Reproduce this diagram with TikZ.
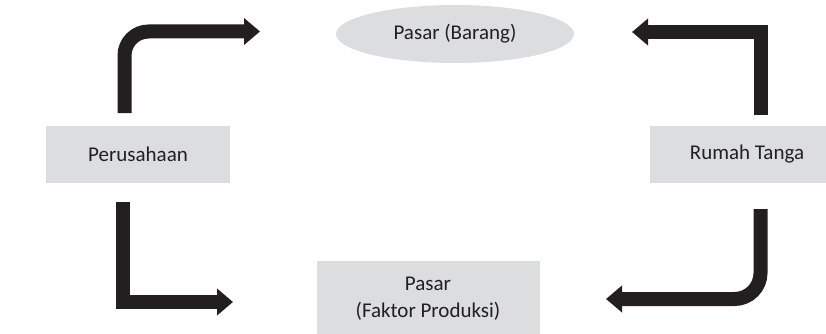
\documentclass[tikz,border=0pt]{standalone}
\usepackage{fontspec}
\setmainfont{Carlito}
\usetikzlibrary{arrows.meta,shapes.geometric}
\definecolor{boxgray}{HTML}{DCDDDE}
\definecolor{ink}{HTML}{231F20}
\begin{document}
\begin{tikzpicture}[x=1pt,y=-1pt,
  label text/.style={text=ink, font=\fontsize{21}{27}\selectfont},
  box/.style={label text, rectangle, fill=boxgray, draw=none, inner sep=0pt, align=center},
  market/.style={label text, ellipse, fill=boxgray, draw=none, inner sep=0pt},
  flow/.style={draw=ink, line width=14pt, -{Triangle[length=16pt,width=26pt]}},
]
\path[use as bounding box, clip] (0,0) rectangle (826,334);

% actors and markets
\node[box, minimum width=184pt, minimum height=57pt] (firm) at (138,154.5) {Perusahaan};
\node[box, minimum width=194pt, minimum height=57pt] (household) at (747,154.5) {Rumah Tanga};
\node[market, minimum width=238pt, minimum height=58pt] (goods) at (455,34) {Pasar (Barang)};
\node[box, minimum width=223pt, minimum height=75pt] (factors) at (428,298.5) {Pasar\\(Faktor Produksi)};

% loose ends of the flows
\coordinate (firmTop) at (124.5,113);
\coordinate (goodsIn) at (260,31.5);
\coordinate (houseTop) at (760.5,115);
\coordinate (goodsOut) at (632,32);
\coordinate (firmBottom) at (122.5,202);
\coordinate (factorsIn) at (233,302);
\coordinate (houseBottom) at (760.5,209);
\coordinate (factorsOut) at (606,299);

% circular flow
\draw[flow, rounded corners=24pt] (firmTop) |- (goodsIn);
\draw[flow] (houseTop) |- (goodsOut);
\draw[flow] (firmBottom) |- (factorsIn);
\draw[flow, rounded corners=26pt] (houseBottom) |- (factorsOut);
\end{tikzpicture}
\end{document}
